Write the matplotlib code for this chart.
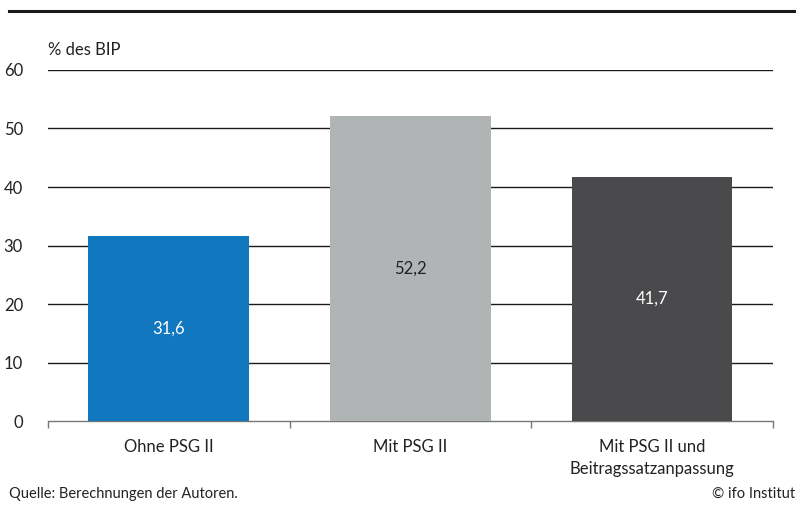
import matplotlib

matplotlib.use("Agg")
import matplotlib.pyplot as plt

# data
categories = ["Ohne PSG II", "Mit PSG II", "Mit PSG II und\nBeitragssatzanpassung"]
values = [31.6, 52.2, 41.7]
value_labels = ["31,6", "52,2", "41,7"]
bar_colors = ["#1177bf", "#b1b4b5", "#4a4a4c"]
label_colors = ["white", "#222222", "white"]
yticks = [0, 10, 20, 30, 40, 50, 60]

plt.rcParams["font.family"] = ["Lato", "DejaVu Sans"]

fig = plt.figure(figsize=(7.96, 5.05), dpi=100)
ax = fig.add_axes((0.0603, 0.1663, 0.9107, 0.6951))

xs = list(range(len(categories)))
bars = ax.bar(xs, values, width=0.665, color=bar_colors, zorder=3)
for b, txt, c in zip(bars, value_labels, label_colors):
    ax.text(b.get_x() + b.get_width() / 2, b.get_height() / 2, txt,
            ha="center", va="center", color=c, fontsize=12, zorder=4)

ax.set_xlim(-0.5, 2.5)
ax.set_ylim(0, 60)
ax.set_yticks(yticks)
ax.set_yticklabels([str(t) for t in yticks], fontsize=12, color="#222222")
ax.tick_params(axis="y", length=0, pad=18)
for t in yticks[1:]:
    ax.axhline(t, color="#1a1a1a", lw=1.0, zorder=1)

ax.set_xticks(xs)
ax.set_xticklabels(categories, fontsize=12, color="#222222", linespacing=1.45)
ax.set_xticks([-0.5, 0.5, 1.5, 2.5], minor=True)
ax.tick_params(axis="x", which="major", length=0, pad=13)
ax.tick_params(axis="x", which="minor", length=5, color="#777777", width=1.0)

for s in ["top", "right", "left"]:
    ax.spines[s].set_visible(False)
ax.spines["bottom"].set_color("#777777")
ax.spines["bottom"].set_linewidth(1.0)

fig.text(48 / 796, 1 - 50 / 505, "% des BIP", fontsize=12, color="#222222",
         ha="left", va="center")
fig.add_artist(plt.Line2D([9 / 796, 1.0], [1 - 11 / 505, 1 - 11 / 505],
                          color="#1a1a1a", lw=2.2))
fig.text(9 / 796, 1 - 494 / 505, "Quelle: Berechnungen der Autoren.",
         fontsize=10.5, color="#222222", ha="left", va="center")
fig.text(1 - 1 / 796, 1 - 494 / 505, "© ifo Institut",
         fontsize=10.5, color="#222222", ha="right", va="center")

fig.savefig("out.png", dpi=100)
